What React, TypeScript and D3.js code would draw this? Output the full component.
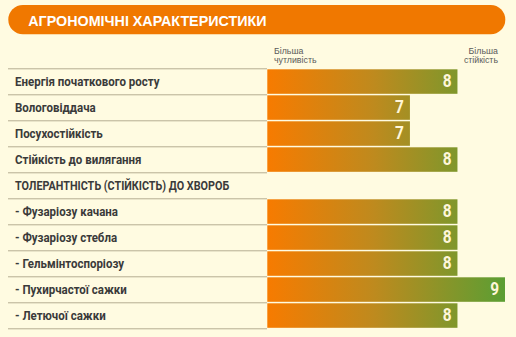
import React from "react";
import * as d3 from "d3";

const title = "АГРОНОМІЧНІ ХАРАКТЕРИСТИКИ";
const leftHeader = ["Більша", "чутливість"];
const rightHeader = ["Більша", "стійкість"];
const rowLabels = [
  "Енергія початкового росту",
  "Вологовіддача",
  "Посухостійкість",
  "Стійкість до вилягання",
  "ТОЛЕРАНТНІСТЬ (СТІЙКІСТЬ) ДО ХВОРОБ",
  "- Фузаріозу качана",
  "- Фузаріозу стебла",
  "- Гельмінтоспоріозу",
  "- Пухирчастої сажки",
  "- Летючої сажки",
];
const rowValues: (number | null)[] = [8, 7, 7, 8, null, 8, 8, 8, 9, 8];
const scaleDomain = [4, 9];

const W = 516;
const H = 337;

export default function App() {
  const x = d3.scaleLinear().domain(scaleDomain).range([267.3, 505]);
  const y = d3.scaleBand<number>().domain(d3.range(rowLabels.length)).range([68.3, 328.3]).paddingInner(0);
  const bw = y.bandwidth();
  const labelFont = "Roboto, 'Liberation Sans', sans-serif";
  return (
    <div style={{ position: "fixed", left: 0, top: 0, width: W, height: H, background: "#FFFBE1" }}>
      <svg width={W} height={H} style={{ display: "block" }}>
        <defs>
          <linearGradient id="barGrad" gradientUnits="userSpaceOnUse" x1={x(scaleDomain[0])} x2={x(scaleDomain[1])} y1={0} y2={0}>
            <stop offset="0%" stopColor="#F77B00" />
            <stop offset="45%" stopColor="#BE8A1E" />
            <stop offset="100%" stopColor="#5B9E33" />
          </linearGradient>
        </defs>
        <rect x={8.3} y={5} width={497} height={29.3} rx={14.6} ry={14.6} fill="#F07800" />
        <text x={28.3} y={26} fill="#FFFFFF" fontFamily="'Liberation Sans', Arial, sans-serif" fontWeight="bold" fontSize={14.3}>
          {title}
        </text>
        <g fontFamily="'Liberation Sans', Arial, sans-serif" fontSize={8.8} fill="#5A5A5A">
          <text x={274} y={54}>{leftHeader[0]}</text>
          <text x={274} y={63}>{leftHeader[1]}</text>
          <text x={498} y={54} textAnchor="end">{rightHeader[0]}</text>
          <text x={498} y={63} textAnchor="end">{rightHeader[1]}</text>
        </g>
        {rowLabels.map((lab, i) => {
          const y0 = y(i)!;
          const upper = lab === lab.toUpperCase();
          const sx = upper ? 0.83 : 0.885;
          return (
            <g key={i}>
              <line x1={8} x2={267} y1={y0 + 0.5} y2={y0 + 0.5} stroke="#B5AD92" strokeWidth={1} />
              <text
                transform={`translate(15,${y0 + bw / 2 + 4.5}) scale(${sx},1)`}
                fill="#3A3A3A"
                fontFamily={labelFont}
                fontWeight="bold"
                fontSize={13}
              >
                {lab}
              </text>
            </g>
          );
        })}
        <line x1={8} x2={267} y1={y.range()[1] + 0.5} y2={y.range()[1] + 0.5} stroke="#B5AD92" strokeWidth={1} />
        {rowValues.map((v, i) => {
          if (v == null) return null;
          const y0 = y(i)!;
          const xe = x(v);
          return (
            <g key={"b" + i}>
              <rect x={x(scaleDomain[0])} y={y0 + 1} width={xe - x(scaleDomain[0])} height={bw - 1.5} fill="url(#barGrad)" />
              <text
                transform={`translate(${xe - 6},${y0 + bw / 2 + 6}) scale(0.88,1)`}
                textAnchor="end"
                fill="#FFF6D8"
                fontFamily={labelFont}
                fontWeight="bold"
                fontSize={17.5}
              >
                {v}
              </text>
            </g>
          );
        })}
      </svg>
    </div>
  );
}
